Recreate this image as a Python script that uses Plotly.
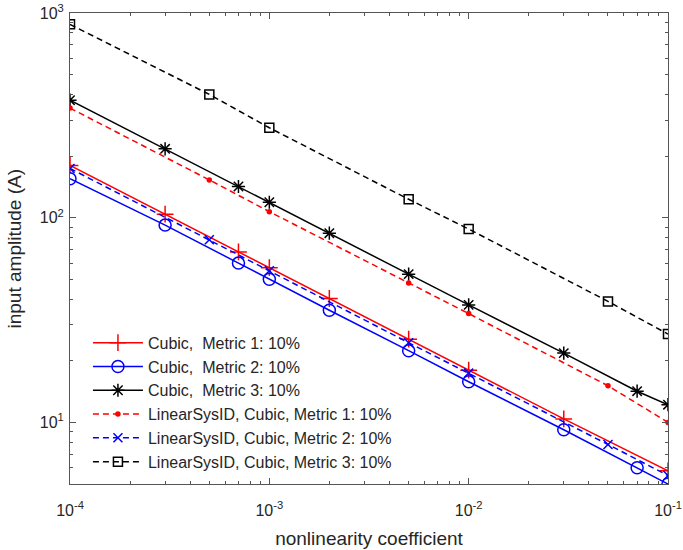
import plotly.graph_objects as go

# ---- data ----
x_cub = [1e-4, 3e-4, 7e-4, 1e-3, 2e-3, 5e-3, 1e-2, 3e-2, 1e-1]
m1_cubic = [180, 104, 68, 57, 40.3, 25.5, 18.0, 10.4, 5.8]

x_cub2 = [1e-4, 3e-4, 7e-4, 1e-3, 2e-3, 5e-3, 1e-2, 3e-2, 7e-2, 1e-1]
m2_cubic = [155, 92, 60, 50, 35.3, 22.4, 15.8, 9.2, 6.0, 5.0]

x_cub3 = [1e-4, 3e-4, 7e-4, 1e-3, 2e-3, 5e-3, 1e-2, 3e-2, 7e-2, 1e-1]
m3_cubic = [375, 217, 142, 119, 84, 53, 37.5, 21.8, 14.2, 12.2]

x_lin = [1e-4, 5e-4, 1e-3, 5e-3, 1e-2, 5e-2, 1e-1]
m1_lin = [343, 153, 107, 48, 34, 15.1, 10.0]
m2_lin = [174, 78, 55, 24.5, 17.4, 7.8, 5.5]
m3_lin = [880, 400, 275, 123, 88, 39, 27]

names = [
    "Cubic,  Metric 1: 10%",
    "Cubic,  Metric 2: 10%",
    "Cubic,  Metric 3: 10%",
    "LinearSysID, Cubic, Metric 1: 10%",
    "LinearSysID, Cubic, Metric 2: 10%",
    "LinearSysID, Cubic, Metric 3: 10%",
]

x_ticks = [1e-4, 1e-3, 1e-2, 1e-1]
x_ticktext = ["10<sup>-4</sup>", "10<sup>-3</sup>", "10<sup>-2</sup>", "10<sup>-1</sup>"]
y_ticks = [10, 100, 1000]
y_ticktext = ["10<sup>1</sup>", "10<sup>2</sup>", "10<sup>3</sup>"]

RED, BLUE, BLACK = "#ff0000", "#0000ff", "#000000"
DASH = "6px,4px"

fig = go.Figure()

def add(x, y, name, color, dash, symbol, size):
    fig.add_trace(go.Scatter(
        x=x, y=y, name=name, mode="lines+markers",
        line=dict(color=color, width=1.5, dash=dash),
        marker=dict(symbol=symbol, size=size, color=color,
                    line=dict(color=color, width=1.5)),
    ))

add(x_cub, m1_cubic, names[0], RED, "solid", "cross-thin-open", 12)
add(x_cub2, m2_cubic, names[1], BLUE, "solid", "circle-open", 12)
add(x_cub3, m3_cubic, names[2], BLACK, "solid", "asterisk-open", 11)
add(x_lin, m1_lin, names[3], RED, DASH, "circle", 4)
add(x_lin, m2_lin, names[4], BLUE, DASH, "x-thin-open", 9)
add(x_lin, m3_lin, names[5], BLACK, DASH, "square-open", 9)

minor_x = [m * 10 ** e for e in (-4, -3, -2) for m in range(2, 10)]
minor_y = [m * 10 ** e for e in (0, 1, 2) for m in range(2, 10) if m * 10 ** e >= 5]

AX = "#555555"
TXT = "#262626"
FONT = "Liberation Sans, Arial, Helvetica, sans-serif"

fig.update_layout(
    width=683, height=550,
    margin=dict(l=70, r=15, t=13, b=66, autoexpand=False),
    paper_bgcolor="white", plot_bgcolor="white",
    font=dict(family=FONT, size=16, color=TXT),
    showlegend=True,
    legend=dict(
        x=0.03, y=0.336, xanchor="left", yanchor="top",
        bgcolor="rgba(255,255,255,0)", borderwidth=0,
        font=dict(family=FONT, size=16, color=TXT),
        tracegroupgap=0, itemwidth=50,
    ),
    xaxis=dict(
        type="log", range=[-4, -1], automargin=False,
        tickvals=x_ticks, ticktext=x_ticktext,
        ticks="inside", ticklen=6, tickcolor=AX, tickwidth=1,
        showline=True, linecolor=AX, linewidth=1, mirror="ticks",
        showgrid=False, zeroline=False,
        minor=dict(tickvals=minor_x, ticks="inside", ticklen=3,
                   tickcolor=AX, showgrid=False),
        ticklabelstandoff=12, ticklabeloverflow="allow",
        title=dict(text="nonlinearity coefficient", font=dict(size=19, color=TXT), standoff=13),
        tickfont=dict(size=16, color=TXT),
    ),
    yaxis=dict(
        type="log", range=[0.69897, 3], automargin=False,
        tickvals=y_ticks, ticktext=y_ticktext,
        ticks="inside", ticklen=6, tickcolor=AX, tickwidth=1,
        showline=True, linecolor=AX, linewidth=1, mirror="ticks",
        showgrid=False, zeroline=False,
        minor=dict(tickvals=minor_y, ticks="inside", ticklen=3,
                   tickcolor=AX, showgrid=False),
        ticklabelstandoff=2, ticklabeloverflow="allow",
        tickfont=dict(size=16, color=TXT),
    ),
    annotations=[dict(
        text="input amplitude (A)", textangle=-90,
        xref="paper", yref="paper", x=-0.092, y=0.5,
        xanchor="center", yanchor="middle", showarrow=False,
        font=dict(family=FONT, size=19, color=TXT),
    )],
)

# remove the browser's default 8px body margin so the figure fills the window
fig.write_html("out.html", config={"displayModeBar": False},
               post_script="document.body.style.margin='0px';")
